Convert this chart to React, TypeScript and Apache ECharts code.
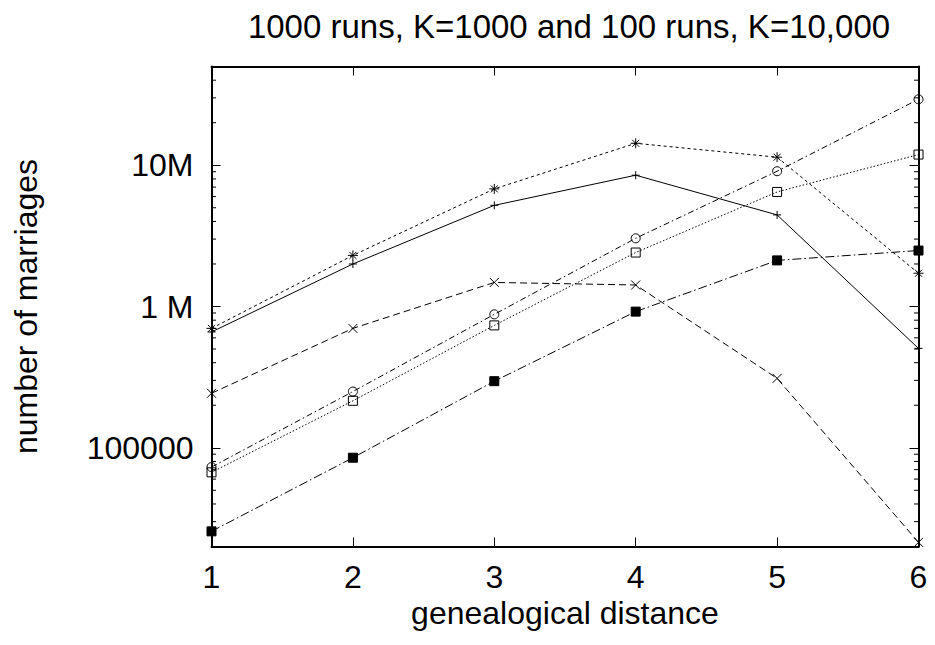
import React, { useEffect, useRef } from 'react';
import * as echarts from 'echarts';

// genealogical distance (x)
const distances = [1, 2, 3, 4, 5, 6];

// number of marriages per series (y, log scale)
const plusSolid = [660000, 2000000, 5200000, 8500000, 4450000, 505000];
const starShortDash = [700000, 2300000, 6800000, 14300000, 11400000, 1720000];
const crossDashed = [243000, 700000, 1480000, 1420000, 310000, 21400];
const circleDashDot = [73000, 250000, 880000, 3040000, 9070000, 29300000];
const squareDotted = [67000, 215000, 735000, 2410000, 6470000, 11900000];
const filledSquareDashDot = [25600, 85000, 296000, 920000, 2120000, 2490000];

// tick labels
const yTickLabels: Record<string, string> = { '5': '100000', '6': '1 M', '7': '10M' };
const minorTicks = [
  30000, 40000, 50000, 60000, 70000, 80000, 90000,
  200000, 300000, 400000, 500000, 600000, 700000, 800000, 900000,
  2000000, 3000000, 4000000, 5000000, 6000000, 7000000, 8000000, 9000000,
  20000000, 30000000, 40000000,
];

const FONT = '"Liberation Sans", Arial, Helvetica, sans-serif';
const FS = 32;
const Y_MIN = 20000;
const Y_MAX = 50000000;

const PLUS = 'path://M0,5L10,5M5,0L5,10';
const CROSS = 'path://M0,0L10,10M10,0L0,10';
const STAR = 'path://M0,5L10,5M5,0L5,10M1.5,1.5L8.5,8.5M8.5,1.5L1.5,8.5';

function lineSeries(name: string, values: number[], symbol: string, size: number, dash: any, fill: string) {
  return {
    type: 'line',
    name,
    data: distances.map((d, i) => [d, values[i]]),
    symbol,
    symbolSize: size,
    showAllSymbol: true,
    lineStyle: { color: '#000', width: 1, type: dash },
    itemStyle: { color: fill, borderColor: '#000', borderWidth: 1 },
    emphasis: { disabled: true },
    silent: true,
    xAxisIndex: 0,
    yAxisIndex: 0,
    z: 3,
  };
}

export default function App() {
  const ref = useRef<HTMLDivElement>(null);
  useEffect(() => {
    if (!ref.current) return;
    const chart = echarts.init(ref.current, null, { renderer: 'svg' });
    const axisLine = { show: true, onZero: false, lineStyle: { color: '#000', width: 2 } };
    const axisTick = { show: true, inside: true, length: 9, lineStyle: { color: '#000', width: 1 } };
    chart.setOption({
      animation: false,
      backgroundColor: '#fff',
      title: {
        text: '1000 runs, K=1000 and 100 runs, K=10,000',
        left: 564,
        top: 5,
        textAlign: 'center',
        textStyle: { fontFamily: FONT, fontSize: 33, fontWeight: 'normal', color: '#000' },
      },
      grid: { left: 211.5, right: 16.5, top: 66.5, bottom: 98.5, containLabel: false },
      xAxis: [
        {
          type: 'value', min: 1, max: 6, interval: 1, position: 'bottom',
          axisLine, axisTick,
          axisLabel: { fontFamily: FONT, fontSize: FS, color: '#000', margin: 14 },
          splitLine: { show: false },
          name: 'genealogical distance', nameLocation: 'middle', nameGap: 47,
          nameTextStyle: { fontFamily: FONT, fontSize: FS, color: '#000' },
        },
        {
          type: 'value', min: 1, max: 6, interval: 1, position: 'top',
          axisLine, axisTick, axisLabel: { show: false }, splitLine: { show: false },
        },
      ],
      yAxis: [
        {
          type: 'log', logBase: 10, min: Y_MIN, max: Y_MAX, position: 'left',
          axisLine, axisTick,
          axisLabel: {
            fontFamily: FONT, fontSize: FS, color: '#000', margin: 18,
            formatter: (v: number) => {
              const l = Math.log10(v);
              const r = Math.round(l);
              if (Math.abs(l - r) > 1e-6) return '';
              return yTickLabels[String(r)] || '';
            },
          },
          splitLine: { show: false },
          name: 'number of marriages', nameLocation: 'middle', nameRotate: 90, nameGap: 170,
          nameTextStyle: { fontFamily: FONT, fontSize: FS, color: '#000' },
        },
        {
          type: 'log', logBase: 10, min: Y_MIN, max: Y_MAX, position: 'right',
          axisLine, axisTick, axisLabel: { show: false }, splitLine: { show: false },
        },
      ],
      series: [
        {
          type: 'custom',
          xAxisIndex: 0,
          yAxisIndex: 0,
          silent: true,
          data: minorTicks.map((v) => [1, v]),
          encode: { x: 0, y: 1 },
          renderItem: (_params: any, api: any) => {
            const v = api.value(1);
            const l = api.coord([1, v]);
            const r = api.coord([6, v]);
            return {
              type: 'group',
              children: [
                { type: 'line', shape: { x1: l[0], y1: l[1], x2: l[0] + 4.5, y2: l[1] }, style: { stroke: '#000', lineWidth: 1 } },
                { type: 'line', shape: { x1: r[0] - 4.5, y1: r[1], x2: r[0], y2: r[1] }, style: { stroke: '#000', lineWidth: 1 } },
              ],
            };
          },
          z: 2,
        },
        lineSeries('plus', plusSolid, PLUS, 8, 'solid', 'rgba(0,0,0,0)'),
        lineSeries('star', starShortDash, STAR, 10, [3, 3], 'rgba(0,0,0,0)'),
        lineSeries('cross', crossDashed, CROSS, 9, [7, 4], 'rgba(0,0,0,0)'),
        lineSeries('circle', circleDashDot, 'circle', 9, [6, 3, 1.5, 3], 'rgba(0,0,0,0)'),
        lineSeries('square', squareDotted, 'rect', 9, [1.5, 2], 'rgba(0,0,0,0)'),
        lineSeries('filledSquare', filledSquareDashDot, 'rect', 9, [9, 3, 1.5, 3], '#000'),
      ],
    });
    return () => chart.dispose();
  }, []);
  return <div ref={ref} style={{ position: 'absolute', left: 0, top: 0, width: 935, height: 645 }} />;
}
